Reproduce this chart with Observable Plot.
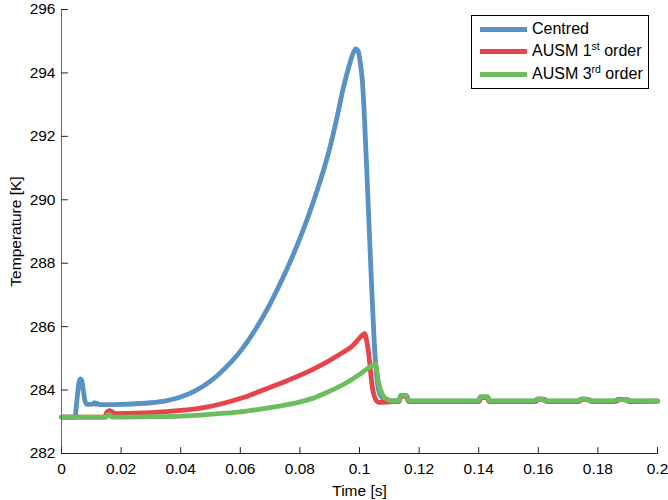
<!DOCTYPE html>
<html><head><meta charset="utf-8">
<script src="https://cdn.jsdelivr.net/npm/d3@7"></script>
<script src="https://cdn.jsdelivr.net/npm/@observablehq/plot@0.6"></script>
<style>
body{margin:0;background:#fff;font-family:"Liberation Sans",Arial,sans-serif;}
#wrap{position:relative;width:668px;height:500px;}
#legend{position:absolute;left:471px;top:15px;width:176px;height:72px;border:1px solid #000;background:#fff;font-size:16px;color:#000;}
.row{position:absolute;left:0;height:20px;width:176px;}
.sw{position:absolute;left:8px;top:7.5px;width:47px;height:5px;}
.lab{position:absolute;left:60px;top:0;line-height:20px;white-space:nowrap;}
.lab sup{font-size:10.5px;vertical-align:0;position:relative;top:-6px;}
</style></head>
<body><div id="wrap"></div>
<script>
const xTicks = [0, 0.02, 0.04, 0.06, 0.08, 0.1, 0.12, 0.14, 0.16, 0.18, 0.2];
const yTicks = [282, 284, 286, 288, 290, 292, 294, 296];
const seriesNames = ["Centred", "AUSM 1st order", "AUSM 3rd order"];
const seriesColors = ["#5892c5", "#e6444a", "#6cbd5e"];

const centredT = [0, 0.0045, 0.0052, 0.0058, 0.0063, 0.0068, 0.0073, 0.0079, 0.0086, 0.0095, 0.0105, 0.011, 0.0115, 0.012, 0.0125, 0.014, 0.02, 0.03, 0.035, 0.04, 0.045, 0.05, 0.055, 0.06, 0.065, 0.07, 0.075, 0.08, 0.085, 0.09, 0.0925, 0.0945, 0.0965, 0.0978, 0.0987, 0.0995, 0.1003, 0.101, 0.1017, 0.1025, 0.1033, 0.1041, 0.1049, 0.1056, 0.1062, 0.1068, 0.1078, 0.109, 0.111, 0.1133, 0.1138, 0.1158, 0.1164, 0.1175, 0.14, 0.1405, 0.143, 0.1436, 0.145, 0.1585, 0.1598, 0.1615, 0.1625, 0.173, 0.1745, 0.1765, 0.1775, 0.1855, 0.187, 0.1895, 0.19, 0.2];
const centredK = [283.15, 283.15, 283.7, 284.2, 284.35, 284.3, 284.0, 283.65, 283.55, 283.55, 283.56, 283.6, 283.55, 283.59, 283.55, 283.54, 283.55, 283.6, 283.66, 283.78, 283.98, 284.28, 284.7, 285.22, 285.9, 286.72, 287.68, 288.78, 290.07, 291.62, 292.62, 293.5, 294.22, 294.6, 294.76, 294.7, 294.3, 293.7, 292.5, 290.8, 289.0, 287.2, 285.6, 284.6, 284.1, 283.88, 283.74, 283.68, 283.66, 283.66, 283.82, 283.82, 283.66, 283.65, 283.65, 283.78, 283.78, 283.65, 283.65, 283.65, 283.72, 283.7, 283.65, 283.65, 283.72, 283.7, 283.65, 283.65, 283.71, 283.68, 283.65, 283.65];

const ausm1T = [0, 0.0145, 0.0152, 0.016, 0.0168, 0.0176, 0.019, 0.025, 0.03, 0.04, 0.0466, 0.055, 0.0615, 0.0668, 0.075, 0.0847, 0.0936, 0.0975, 0.1003, 0.1013, 0.1018, 0.1023, 0.1031, 0.1037, 0.1043, 0.105, 0.1058, 0.1068, 0.109, 0.1112, 0.1133, 0.1138, 0.1158, 0.1164, 0.1175, 0.1402, 0.1408, 0.1428, 0.1435, 0.1452, 0.159, 0.1603, 0.162, 0.163, 0.1735, 0.175, 0.177, 0.178, 0.186, 0.1875, 0.19, 0.1905, 0.2];
const ausm1K = [283.15, 283.15, 283.3, 283.35, 283.33, 283.27, 283.26, 283.27, 283.29, 283.36, 283.43, 283.6, 283.78, 283.97, 284.27, 284.67, 285.14, 285.38, 285.67, 285.76, 285.78, 285.6, 285.14, 284.6, 284.09, 283.8, 283.65, 283.61, 283.62, 283.64, 283.64, 283.8, 283.8, 283.64, 283.64, 283.64, 283.76, 283.76, 283.64, 283.64, 283.64, 283.71, 283.71, 283.64, 283.64, 283.7, 283.7, 283.64, 283.64, 283.7, 283.7, 283.64, 283.65];

const ausm3T = [0, 0.015, 0.0155, 0.0162, 0.0168, 0.02, 0.03, 0.04, 0.0466, 0.055, 0.0615, 0.0668, 0.072, 0.078, 0.084, 0.0892, 0.095, 0.1003, 0.103, 0.1047, 0.1054, 0.1058, 0.1065, 0.1073, 0.1082, 0.1095, 0.111, 0.1133, 0.1138, 0.1158, 0.1164, 0.1175, 0.14, 0.1406, 0.143, 0.1436, 0.145, 0.1585, 0.1598, 0.1615, 0.1625, 0.173, 0.1745, 0.1765, 0.1775, 0.1855, 0.187, 0.1895, 0.19, 0.2];
const ausm3K = [283.15, 283.15, 283.22, 283.22, 283.15, 283.15, 283.16, 283.18, 283.21, 283.27, 283.33, 283.4, 283.48, 283.58, 283.73, 283.93, 284.2, 284.51, 284.7, 284.8, 284.83, 284.6, 284.2, 283.95, 283.78, 283.7, 283.67, 283.66, 283.83, 283.83, 283.66, 283.66, 283.66, 283.79, 283.79, 283.66, 283.66, 283.66, 283.71, 283.71, 283.66, 283.66, 283.71, 283.71, 283.66, 283.66, 283.7, 283.7, 283.66, 283.66];

const seriesT = [centredT, ausm1T, ausm3T];
const seriesK = [centredK, ausm1K, ausm3K];
const rows = seriesNames.flatMap((name, i) => seriesT[i].map((t, j) => ({name, t, k: seriesK[i][j]})));

const tickShape = {draw(ctx, l) { ctx.moveTo(0, 0); ctx.lineTo(0, -l); }};
const fmt = d => String(+d.toFixed(2));
const FONT = "'Liberation Sans', Arial, sans-serif";

const chart = Plot.plot({
  width: 668, height: 500,
  marginLeft: 61, marginRight: 11, marginTop: 9, marginBottom: 47,
  style: {fontFamily: FONT, fontSize: "16px", color: "#000", background: "#fff"},
  x: {domain: [0, 0.2]},
  y: {domain: [282, 296]},
  color: {domain: seriesNames, range: seriesColors},
  marks: [
    Plot.line(rows, {x: "t", y: "k", z: "name", stroke: "name", strokeWidth: 4.8, curve: "monotone-x", strokeLinejoin: "round", strokeLinecap: "round"}),
    Plot.ruleX([xTicks[0]], {stroke: "#666", strokeWidth: 1}),
    Plot.ruleY([yTicks[0]], {stroke: "#222", strokeWidth: 1}),
    Plot.vector(xTicks, {x: d => d, y: () => yTicks[0], length: 6, rotate: 0, anchor: "start", shape: tickShape, stroke: "#222", strokeWidth: 1}),
    Plot.vector(yTicks, {x: () => xTicks[0], y: d => d, length: 6, rotate: 90, anchor: "start", shape: tickShape, stroke: "#222", strokeWidth: 1}),
    Plot.axisX(xTicks, {tickSize: 0, tickPadding: 9, tickFormat: fmt, fontSize: 15.5, fontFamily: FONT, label: "Time [s]", labelAnchor: "center", labelOffset: 42, labelArrow: "none"}),
    Plot.axisY(yTicks, {tickSize: 0, tickPadding: 6, tickFormat: d => String(d), fontSize: 15.5, fontFamily: FONT, label: "Temperature [K]", labelAnchor: "center", labelOffset: 52, labelArrow: "none"})
  ]
});
const wrap = document.getElementById("wrap");
wrap.appendChild(chart);

const legend = document.createElement("div");
legend.id = "legend";
const labelsHtml = ["Centred", "AUSM 1<sup>st</sup> order", "AUSM 3<sup>rd</sup> order"];
const rowTops = [3, 25, 48];
labelsHtml.forEach((h, i) => {
  const r = document.createElement("div");
  r.className = "row";
  r.style.top = rowTops[i] + "px";
  r.innerHTML = `<div class="sw" style="background:${seriesColors[i]}"></div><div class="lab">${h}</div>`;
  legend.appendChild(r);
});
wrap.appendChild(legend);
</script>
</body></html>
